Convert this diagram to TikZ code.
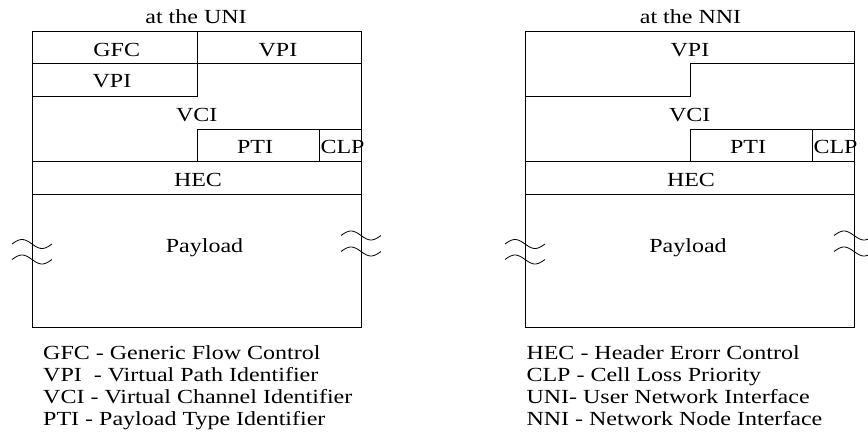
\documentclass[tikz,border=0pt]{standalone}
\usepackage{fontspec}
\setmainfont{Liberation Serif}[FakeStretch=1.2]
\begin{document}
\begin{tikzpicture}[x=0.75pt,y=-0.75pt,line width=0.75pt,
    lbl/.style={inner sep=0pt,anchor=base,font=\fontsize{15}{18}\selectfont},
    legend/.style={lbl,anchor=base west},
    wave/.style={line width=0.6pt,smooth,samples=30,domain=0:1,variable=\t}]
    \useasboundingbox (0,0) rectangle (868,436);
    % the two cell headers
    \node[lbl] (uni) at (196,23.3) {at the UNI};
    \node[lbl] (nni) at (690.5,23.3) {at the NNI};
    \foreach \ox/\nm in {0/u,493/n} {
        \draw (32+\ox,31.7) rectangle (361+\ox,327.7);
        \draw (32+\ox,96.7) -- (197+\ox,96.7) -- (197+\ox,63.3);
        \draw (197+\ox,161.7) -- (197+\ox,129.3) -- (361+\ox,129.3);
        \draw (319.3+\ox,129.3) -- (319.3+\ox,161.7);
        \draw (32+\ox,161.7) -- (361+\ox,161.7);
        \draw (32+\ox,194.3) -- (361+\ox,194.3);
        \foreach \wy in {244,259.5}
            \draw[wave] plot ({12+\ox+40*\t},{\wy-4.5*sin(360*\t)});
        \foreach \wy in {235.5,251.5}
            \draw[wave] plot ({341+\ox+40*\t},{\wy-4.5*sin(360*\t)});
        \node[lbl] (vci\nm) at (196.7+\ox,121.2) {VCI};
        \node[lbl] (pti\nm) at (255+\ox,153.8) {PTI};
        \node[lbl,anchor=base west] (clp\nm) at (320+\ox,153.8) {CLP};
        \node[lbl] (hec\nm) at (198+\ox,186.2) {HEC};
    }
    % UNI only
    \draw (197,31.7) -- (197,63.3);
    \draw (32,63.3) -- (361,63.3);
    \node[lbl] (gfc) at (116.7,56.2) {GFC};
    \node[lbl] (vpia) at (278,56.2) {VPI};
    \node[lbl] (vpib) at (112,87.8) {VPI};
    \node[lbl] (payu) at (204.5,252.7) {Payload};
    % NNI only
    \draw (690,63.3) -- (854,63.3);
    \node[lbl] (vpin) at (690,56.2) {VPI};
    \node[lbl] (payn) at (688,252.7) {Payload};
    % legend
    \foreach \txt [count=\i] in {GFC - Generic Flow Control,
        VPI\ \ - Virtual Path Identifier,
        VCI - Virtual Channel Identifier,
        PTI - Payload Type Identifier}
        \node[legend] (lega\i) at (42.7,337+22*\i) {\txt};
    \foreach \txt [count=\i] in {HEC - Header Erorr Control,
        CLP - Cell Loss Priority,
        UNI- User Network Interface,
        NNI - Network Node Interface}
        \node[legend] (legb\i) at (526,337+22*\i) {\txt};
\end{tikzpicture}
\end{document}
